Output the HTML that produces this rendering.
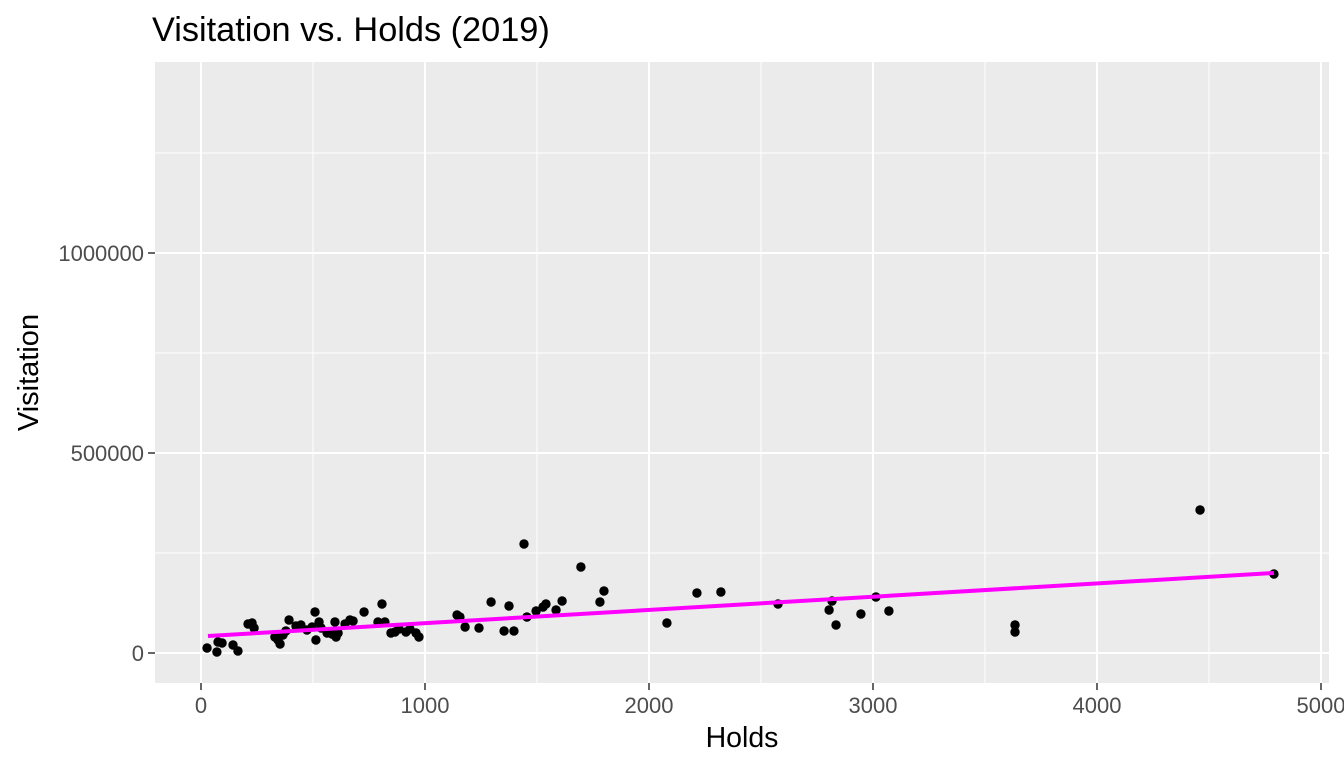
<!DOCTYPE html>
<html><head><meta charset="utf-8"><style>body{margin:0;background:#fff}svg{display:block;font-family:"Liberation Sans",Arial,sans-serif}</style></head>
<body>
<svg id="chart" width="1344" height="768" xmlns="http://www.w3.org/2000/svg"></svg>
<script>
const holds=[27,71,76,94,143,165,210,228,237,330,344,353,366,379,393,424,446,473,496,509,513,527,536,563,585,598,603,612,643,665,679,728,790,808,821,848,866,884,915,933,960,973,1143,1156,1179,1241,1295,1353,1375,1397,1442,1455,1496,1527,1540,1585,1612,1696,1781,1799,2080,2214,2321,2576,2804,2817,2835,2946,3013,3071,3634,3634,4460,4790];
const visits=[12500,2500,27500,25000,20000,5000,72500,75000,62500,40000,32500,22500,45000,55000,82500,67500,70000,57500,65000,102500,32500,77500,62500,50000,47500,77500,40000,50000,72500,82500,80000,102500,77500,122500,77500,50000,52500,60000,52500,60000,50000,40000,95000,90000,65000,62500,127500,55000,117500,55000,272500,90000,105000,115000,122500,107500,130000,215000,127500,155000,75000,150000,152500,122500,107500,130000,70000,97500,140000,105000,52500,70000,357500,197500];
const fitX=[31,4790];
const fitY=[42500,200000];
const xTicks=[0,1000,2000,3000,4000,5000];
const yTicks=[0,500000,1000000];
const yMinor=[250000,750000,1250000];
const xMinor=[500,1500,2500,3500,4500];
const NS="http://www.w3.org/2000/svg";
const svg=document.getElementById('chart');
const L=155,R=1329,T=62,B=683;
const sx=v=>201+v*0.224;
const sy=v=>653-v*0.0004;
function mk(tag,at,parent){const e=document.createElementNS(NS,tag);for(const k in at)e.setAttribute(k,at[k]);(parent||svg).appendChild(e);return e;}
const panel=mk('rect',{x:L,y:T,width:R-L,height:B-T,fill:'#ebebeb'});


yMinor.forEach(v=>{const l=mk('line',{x1:L,x2:R,y1:sy(v),y2:sy(v),stroke:'#fff','stroke-width':1});});
xMinor.forEach(v=>{const l=mk('line',{x1:sx(v),x2:sx(v),y1:T,y2:B,stroke:'#fff','stroke-width':1});});
yTicks.forEach(v=>{const l=mk('line',{x1:L,x2:R,y1:sy(v),y2:sy(v),stroke:'#fff','stroke-width':2});
const t=mk('line',{x1:L-7,x2:L,y1:sy(v),y2:sy(v),stroke:'#333','stroke-width':1.5});
const tx=mk('text',{x:L-11,y:sy(v)+8,'text-anchor':'end','font-size':22,fill:'#4d4d4d'});tx.textContent=v;});
xTicks.forEach(v=>{const l=mk('line',{x1:sx(v),x2:sx(v),y1:T,y2:B,stroke:'#fff','stroke-width':2});
const t=mk('line',{x1:sx(v),x2:sx(v),y1:B,y2:B+7,stroke:'#333','stroke-width':1.5});
const tx=mk('text',{x:sx(v),y:713,'text-anchor':'middle','font-size':22,fill:'#4d4d4d'});tx.textContent=v;});
holds.forEach((h,i)=>{const c=mk('circle',{cx:sx(h),cy:sy(visits[i]),r:4.7,fill:'#000'});});
const fl=mk('line',{x1:sx(fitX[0]),y1:sy(fitY[0]),x2:sx(fitX[1]),y2:sy(fitY[1]),stroke:'#ff00ff','stroke-width':4});


const ti=mk('text',{x:152,y:41,'font-size':34.3,fill:'#000'});ti.textContent='Visitation vs. Holds (2019)';


const xt=mk('text',{x:(L+R)/2,y:747,'text-anchor':'middle','font-size':28.5,fill:'#000'});xt.textContent='Holds';


const yt=mk('text',{x:0,y:0,'text-anchor':'middle','font-size':29,fill:'#000',transform:'translate(38,'+((T+B)/2)+') rotate(-90)'});yt.textContent='Visitation';


</script>
</body></html>
